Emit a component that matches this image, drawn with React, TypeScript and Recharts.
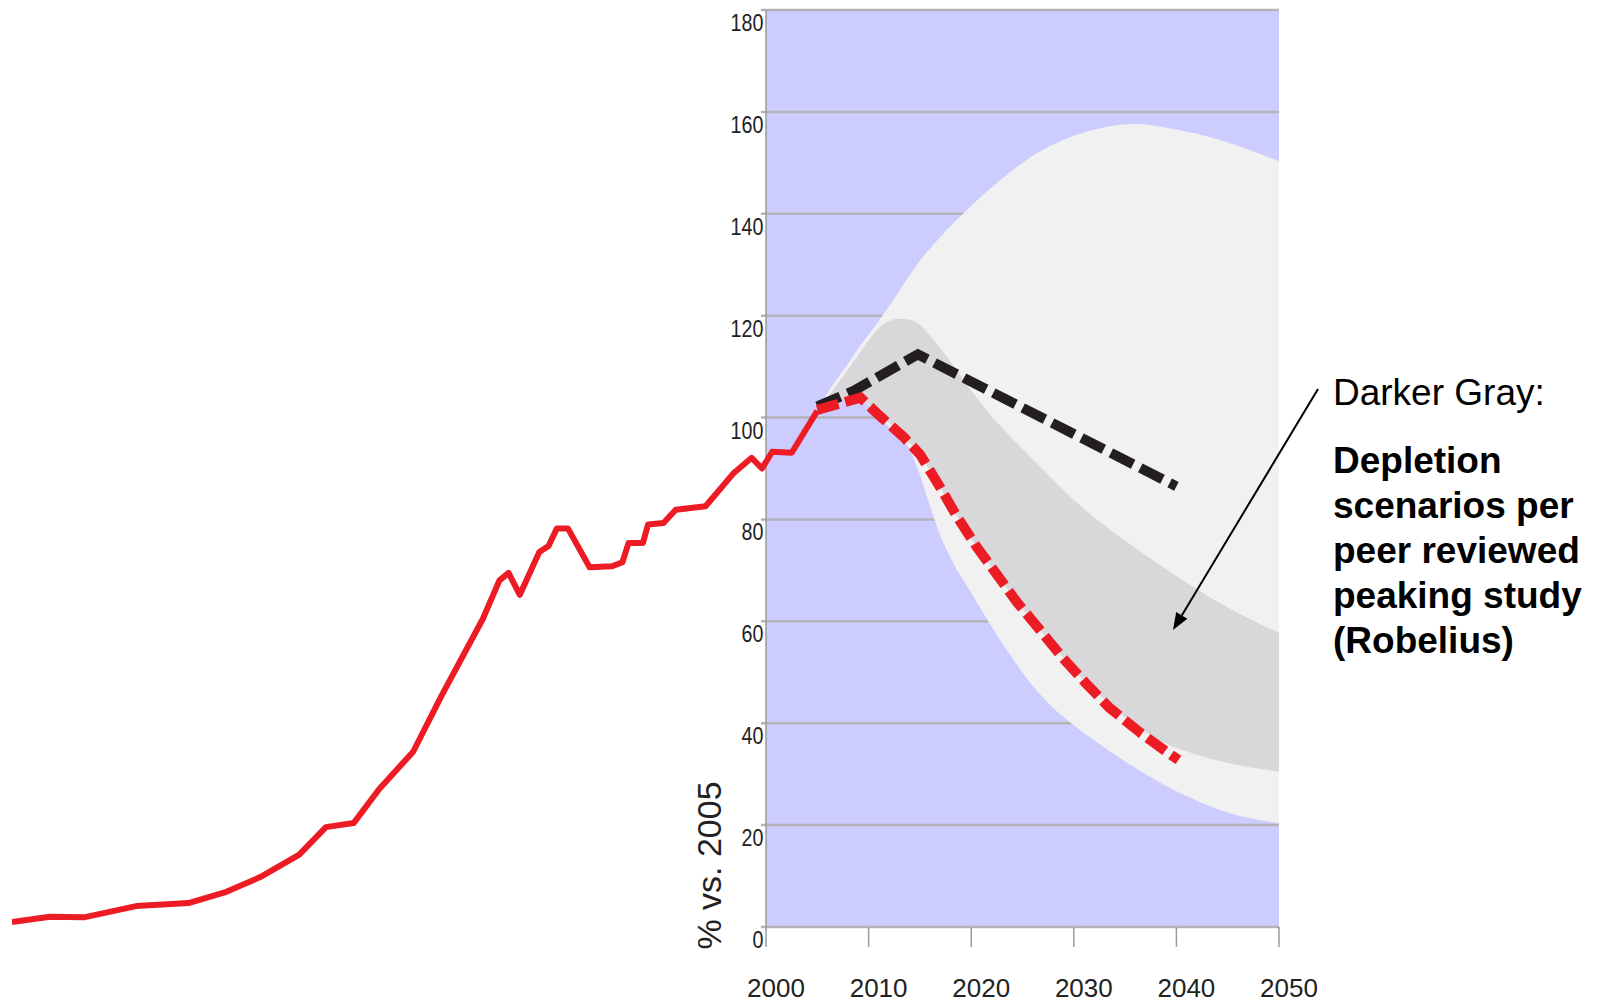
import React from 'react';
import { ComposedChart, Line, Area, XAxis, YAxis, ReferenceArea, ReferenceLine } from 'recharts';

// Historical production (solid red)
const histYears = [1926.5, 1930.2, 1933.5, 1938.6, 1943.7, 1947.4, 1950.7, 1954.5, 1957.1, 1959.8, 1962.3, 1965.6, 1968.4, 1972.4, 1974.0, 1974.9, 1976.0, 1977.9, 1978.8, 1979.6, 1980.7, 1982.8, 1985.0, 1986.0, 1986.6, 1988.0, 1988.5, 1990.0, 1991.2, 1994.1, 1996.8, 1998.6, 1999.6, 2000.6, 2002.5, 2005.0];
const histValues = [1.0, 2.0, 1.9, 4.1, 4.7, 6.9, 9.8, 14.2, 19.6, 20.4, 27.1, 34.4, 45.5, 60.5, 68.0, 69.5, 65.2, 73.6, 74.8, 78.2, 78.2, 70.6, 70.8, 71.6, 75.4, 75.4, 79.0, 79.3, 81.9, 82.6, 89.0, 92.1, 90.0, 93.3, 93.1, 101.3];

// Red dashed scenario
const redYears = [2005, 2009.2, 2011.1, 2013.4, 2015.0, 2017.0, 2018.6, 2020.5, 2022.5, 2024.4, 2026.7, 2028.8, 2031.1, 2033.5, 2036.5, 2039.1, 2040.2];
const redValues = [101.5, 103.9, 100.3, 96.2, 92.8, 86.2, 80.6, 74.7, 69.2, 63.9, 58.3, 53.1, 48.0, 43.0, 38.1, 34.3, 32.8];

// Black dashed scenario
const blackYears = [2005, 2008.5, 2014.8, 2040.0];
const blackValues = [102.2, 105.2, 112.4, 86.5];

// Scenario bands (light gray = full range, darker gray = Robelius)
const bandYears = [2005, 2006, 2008, 2009, 2011, 2013, 2014, 2015, 2016, 2017, 2018, 2020, 2022, 2024, 2026, 2028, 2030, 2033, 2036, 2039, 2042, 2045, 2050];
const lightLow = [101.5, 102.2, 103.3, 103.6, 100.2, 96.0, 93.8, 88.7, 82.5, 76.8, 72.4, 65.6, 58.9, 52.8, 47.3, 43.0, 39.6, 35.2, 31.2, 27.7, 24.8, 22.5, 20.4];
const lightHigh = [101.5, 104.8, 110.6, 113.6, 119.0, 124.9, 128.0, 130.8, 133.2, 135.5, 137.6, 141.6, 145.2, 148.5, 151.4, 153.6, 155.3, 157.0, 157.6, 156.9, 155.7, 154.0, 150.3];
const darkLow = [101.5, 102.2, 103.3, 103.8, 100.6, 97.0, 95.0, 92.8, 89.5, 86.2, 82.7, 76.2, 70.6, 65.0, 60.0, 55.2, 50.6, 44.6, 39.6, 36.0, 33.8, 32.2, 30.5];
const darkHigh = [101.5, 104.0, 109.5, 112.3, 117.6, 119.4, 119.2, 118.2, 116.0, 113.6, 110.9, 105.3, 100.2, 95.9, 91.8, 87.7, 83.8, 78.8, 74.4, 70.2, 66.3, 62.7, 57.7];

const xTicks = [2000, 2010, 2020, 2030, 2040, 2050];
const yTicks = [0, 20, 40, 60, 80, 100, 120, 140, 160, 180];

const histData = histYears.map((year, i) => ({ year, v: histValues[i] }));
const redData = redYears.map((year, i) => ({ year, v: redValues[i] }));
const blackData = blackYears.map((year, i) => ({ year, v: blackValues[i] }));
const bandData = bandYears.map((year, i) => ({
  year,
  light: [lightLow[i], lightHigh[i]],
  dark: [darkLow[i], darkHigh[i]],
}));

const FONT = "'Liberation Sans', Arial, Helvetica, sans-serif";

const XTick = (props: any) => {
  const { x, y, payload } = props;
  return (
    <text x={x + 10} y={y + 48} textAnchor="middle" fontSize={26} fontFamily={FONT} fill="#222">
      {payload.value}
    </text>
  );
};

const makeYLabel = (v: number) => (props: any) => {
  const vb = props.viewBox || {};
  const x = (vb.x ?? 0) + 2.5;
  const y = (vb.y ?? 0) + 21;
  return (
    <text transform={`translate(${x},${y}) scale(0.82,1)`} textAnchor="end" fontSize={24} fontFamily={FONT} fill="#222">
      {v}
    </text>
  );
};

export default function App() {
  const arrowA = { x: 1318, y: 389 };
  const arrowB = { x: 1173, y: 630 };
  const dx = arrowB.x - arrowA.x;
  const dy = arrowB.y - arrowA.y;
  const len = Math.sqrt(dx * dx + dy * dy);
  const ux = dx / len, uy = dy / len;
  const nx = -uy, ny = ux;
  const hl = 17, hw = 6.5;
  const cx = arrowB.x - hl * ux, cy = arrowB.y - hl * uy;
  const head = `${arrowB.x},${arrowB.y} ${cx + hw * nx},${cy + hw * ny} ${cx - hw * nx},${cy - hw * ny}`;

  return (
    <div style={{ position: 'absolute', left: 0, top: 0, width: 1601, height: 1004, background: '#fff' }}>
      <ComposedChart width={1601} height={1004} data={bandData} margin={{ top: 10, right: 322, bottom: 0, left: 12 }}>
        <XAxis
          dataKey="year"
          type="number"
          domain={[1926.5, 2050]}
          allowDataOverflow
          ticks={xTicks}
          interval={0}
          tickSize={20}
          tickLine={{ stroke: '#9a9a9a', strokeWidth: 1.5 }}
          axisLine={false}
          height={77}
          tick={<XTick />}
        />
        <YAxis type="number" domain={[0, 180]} hide />
        <ReferenceArea x1={2000} x2={2050} y1={0} y2={180} fill="#ccccff" fillOpacity={1} stroke="none" zIndex={-90} />
        {yTicks.map((v) => (
          <ReferenceLine
            key={v}
            segment={[{ x: 1999.5, y: v }, { x: 2050, y: v }]}
            stroke="#b4b4b8"
            strokeWidth={2.5}
            zIndex={-80}
            label={makeYLabel(v)}
          />
        ))}
        <ReferenceLine segment={[{ x: 2000, y: 0 }, { x: 2000, y: 180 }]} stroke="#9a9a9a" strokeWidth={1.5} zIndex={-70} />
        <Area dataKey="light" type="monotone" fill="#f1f1f1" fillOpacity={1} stroke="none" isAnimationActive={false} dot={false} activeDot={false} />
        <Area dataKey="dark" type="monotone" fill="#d8d8da" fillOpacity={1} stroke="none" isAnimationActive={false} dot={false} activeDot={false} />
        <Line data={blackData} dataKey="v" type="linear" stroke="#231f20" strokeWidth={10} strokeDasharray="25 8" dot={false} activeDot={false} isAnimationActive={false} />
        <Line data={redData} dataKey="v" type="linear" stroke="#ed1c24" strokeWidth={10} strokeDasharray="22 7" dot={false} activeDot={false} isAnimationActive={false} />
        <Line data={histData} dataKey="v" type="linear" stroke="#ed1c24" strokeWidth={6} strokeLinejoin="round" dot={false} activeDot={false} isAnimationActive={false} />
      </ComposedChart>
      <svg width={1601} height={1004} style={{ position: 'absolute', left: 0, top: 0, pointerEvents: 'none' }}>
        <text transform="translate(721,865.5) rotate(-90)" textAnchor="middle" fontSize={34} fontFamily={FONT} fill="#222">
          % vs. 2005
        </text>
        <line x1={arrowA.x} y1={arrowA.y} x2={cx} y2={cy} stroke="#000" strokeWidth={2} />
        <polygon points={head} fill="#000" />
        <text x={1333} y={405} fontSize={37} fontFamily={FONT} fill="#000">Darker Gray:</text>
        <text fontSize={37} fontFamily={FONT} fontWeight="bold" fill="#000">
          <tspan x={1333} y={473}>Depletion</tspan>
          <tspan x={1333} y={518}>scenarios per</tspan>
          <tspan x={1333} y={563}>peer reviewed</tspan>
          <tspan x={1333} y={608}>peaking study</tspan>
          <tspan x={1333} y={653}>(Robelius)</tspan>
        </text>
      </svg>
    </div>
  );
}
